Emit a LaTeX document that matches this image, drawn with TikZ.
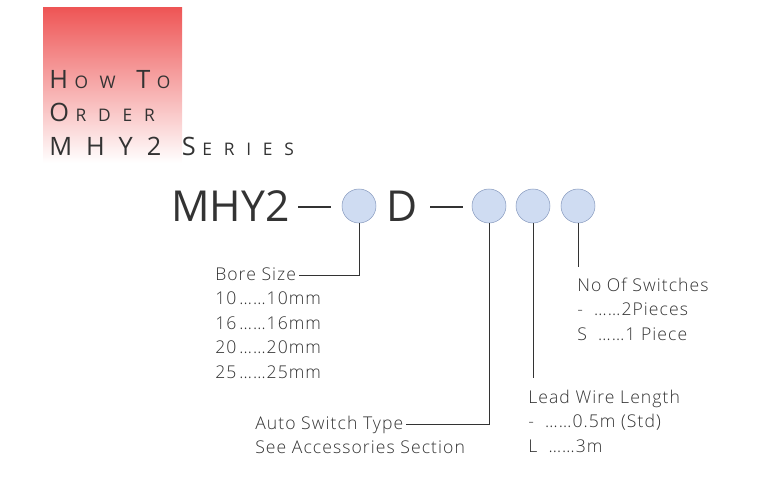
\documentclass[tikz,border=0pt]{standalone}
\usepackage{fontspec}
\setmainfont{Open Sans}
\newfontfamily\spaced[LetterSpace=6]{Open Sans Light}
\newfontfamily\wide[LetterSpace=55]{Open Sans}
\newfontfamily\wider[LetterSpace=68]{Open Sans}
\definecolor{bubble}{HTML}{CFDCF2}
\definecolor{bubbleline}{HTML}{8A9CC0}
\definecolor{ink}{HTML}{333333}
\definecolor{topred}{HTML}{EE5555}
\newcommand{\headbig}{\wide\fontsize{19}{20}\selectfont}
\newcommand{\headsmall}{\kern5pt\wider\fontsize{13}{14}\selectfont}
\begin{document}
\begin{tikzpicture}[x=0.75pt,y=-0.75pt,
  code/.style={circle, draw=bubbleline, fill=bubble, minimum size=25.5pt, inner sep=0pt},
  txt/.style={anchor=base west, inner sep=0pt, text=ink, font=\spaced\fontsize{13.2}{15}\selectfont},
  big/.style={anchor=base west, inner sep=0pt, text=ink, font=\fontsize{32}{36}\selectfont},
  head/.style={anchor=base west, inner sep=0pt, text=ink, font=\headbig},
  lead/.style={draw=ink, line width=0.6pt}
]
  \useasboundingbox (0,0) rectangle (768,496);
  % header block
  \shade[top color=topred, bottom color=white] (43,7) rectangle (182,163);
  \node[head] (how) at (49,88) {H{\headsmall OW} T{\headsmall O}};
  \node[head] (order) at (49,121) {O{\headsmall RDER}};
  \node[head] (series) at (49,155) {MHY2 S{\headsmall ERIES}};
  % part number
  \node[big] (mhy) at (171,221) {MHY2};
  \coordinate (d1a) at (298,207); \coordinate (d1b) at (331,207);
  \draw[ink, line width=2.2pt] (d1a) -- (d1b);
  \node[code] (c1) at (359,206) {};
  \node[big] (dd) at (386,221) {D};
  \coordinate (d2a) at (430,207); \coordinate (d2b) at (463,207);
  \draw[ink, line width=2.2pt] (d2a) -- (d2b);
  \node[code] (c2) at (489,206) {};
  \node[code] (c3) at (533,206) {};
  \node[code] (c4) at (578,206) {};
  % bore size
  \node[txt] (bore) at (215,280) {Bore Size};
  \node[txt] (b10) at (215,304) {10\,……10mm};
  \node[txt] (b16) at (215,329) {16\,……16mm};
  \node[txt] (b20) at (215,353) {20\,……20mm};
  \node[txt] (b25) at (215,378) {25\,……25mm};
  \draw[lead] (c1.south) |- ([xshift=2pt,yshift=0.75pt]bore.mid east);
  % auto switch
  \node[txt] (auto) at (255,429) {Auto Switch Type};
  \node[txt] (acc) at (255,453) {See Accessories Section};
  \draw[lead] (c2.south) |- ([xshift=2pt,yshift=0.75pt]auto.mid east);
  % lead wire
  \node[txt] (wire) at (528,403) {Lead Wire Length};
  \node[txt] (w1) at (528,427) {-\ \ ……0.5m (Std)};
  \node[txt] (w2) at (528,452) {L\ \ ……3m};
  \coordinate (wend) at (533,378);
  \draw[lead] (c3.south) -- (wend);
  % switches
  \node[txt] (num) at (577,291) {No Of Switches};
  \node[txt] (n1) at (577,315) {-\ \ ……2Pieces};
  \node[txt] (n2) at (577,340) {S\ \ ……1 Piece};
  \coordinate (nend) at (578,267);
  \draw[lead] (c4.south) -- (nend);
\end{tikzpicture}
\end{document}
